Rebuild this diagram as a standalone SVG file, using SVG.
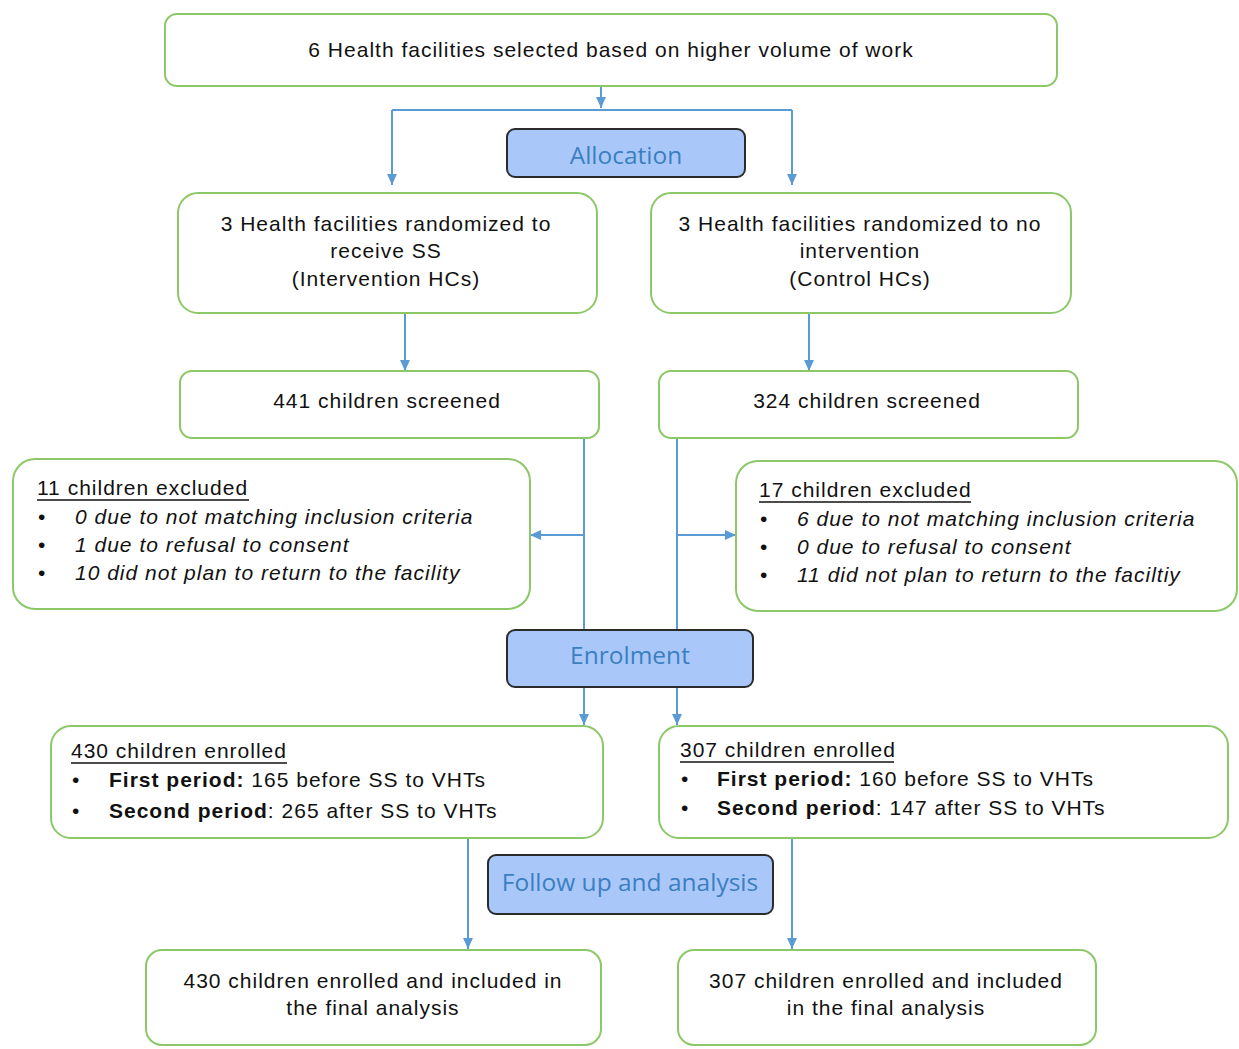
<svg xmlns="http://www.w3.org/2000/svg" width="1239" height="1049" viewBox="0 0 1239 1049">
  <defs>
    <marker id="arr" viewBox="0 0 10 10" refX="10" refY="5" markerWidth="11" markerHeight="11" orient="auto" markerUnits="userSpaceOnUse">
      <path d="M0,0.5 L10,5 L0,9.5 z" fill="#5b9bd5"/>
    </marker>
    <style>
      .box { fill: #ffffff; stroke: #8cc868; stroke-width: 2; }
      .stage { fill: #a9c8f9; stroke: #2b2b2b; stroke-width: 2; }
      .stage-t { font-family: "Open Sans", "Noto Sans", sans-serif; font-size: 24.5px; fill: #3b7fc2; text-anchor: middle; }
      .t { font-family: "Liberation Sans", Arial, sans-serif; font-size: 21px; letter-spacing: 1px; fill: #111; }
      .c { text-anchor: middle; }
      .i { font-style: italic; }
      .b { font-weight: bold; }
      .conn { fill: none; stroke: #5b9bd5; stroke-width: 2; }
      .ul { stroke: #111; stroke-width: 1.5; }
    </style>
  </defs>

  <!-- connectors -->
  <g id="connectors">
    <line class="conn" x1="601" y1="86" x2="601" y2="108" marker-end="url(#arr)"/>
    <polyline class="conn" points="392,110 792,110"/>
    <line class="conn" x1="392" y1="110" x2="392" y2="185" marker-end="url(#arr)"/>
    <line class="conn" x1="792" y1="110" x2="792" y2="185" marker-end="url(#arr)"/>
    <line class="conn" x1="405" y1="313" x2="405" y2="371" marker-end="url(#arr)"/>
    <line class="conn" x1="809" y1="313" x2="809" y2="371" marker-end="url(#arr)"/>
    <line class="conn" x1="584" y1="438" x2="584" y2="725" marker-end="url(#arr)"/>
    <line class="conn" x1="677" y1="438" x2="677" y2="725" marker-end="url(#arr)"/>
    <line class="conn" x1="584" y1="535" x2="530" y2="535" marker-end="url(#arr)"/>
    <line class="conn" x1="677" y1="535" x2="736" y2="535" marker-end="url(#arr)"/>
    <line class="conn" x1="468" y1="838" x2="468" y2="949" marker-end="url(#arr)"/>
    <line class="conn" x1="792" y1="838" x2="792" y2="949" marker-end="url(#arr)"/>
  </g>

  <!-- top -->
  <g id="selected">
    <rect class="box" x="165" y="14" width="892" height="72" rx="12"/>
    <text class="t c" x="611" y="57">6 Health facilities selected based on higher volume of work</text>
  </g>

  <g id="allocation">
    <rect class="stage" x="507" y="129" width="238" height="48" rx="8"/>
    <text class="stage-t" x="626" y="164">Allocation</text>
  </g>

  <g id="intervention-hcs">
    <rect class="box" x="178" y="193" width="419" height="120" rx="20"/>
    <text class="t c" x="386" y="231">3 Health facilities randomized to</text>
    <text class="t c" x="386" y="258">receive SS</text>
    <text class="t c" x="386" y="286">(Intervention HCs)</text>
  </g>

  <g id="control-hcs">
    <rect class="box" x="651" y="193" width="420" height="120" rx="20"/>
    <text class="t c" x="860" y="231">3 Health facilities randomized to no</text>
    <text class="t c" x="860" y="258">intervention</text>
    <text class="t c" x="860" y="286">(Control HCs)</text>
  </g>

  <g id="screened-left">
    <rect class="box" x="180" y="371" width="419" height="67" rx="12"/>
    <text class="t c" x="387" y="408">441 children screened</text>
  </g>

  <g id="screened-right">
    <rect class="box" x="659" y="371" width="419" height="67" rx="12"/>
    <text class="t c" x="867" y="408">324 children screened</text>
  </g>

  <g id="excluded-left">
    <rect class="box" x="13" y="459" width="517" height="150" rx="22"/>
    <text class="t" x="37" y="495">11 children excluded</text>
    <line class="ul" x1="37" y1="500" x2="249" y2="500"/>
    <text class="t" x="38" y="524">•</text>
    <text class="t i" x="75" y="524">0 due to not matching inclusion criteria</text>
    <text class="t" x="38" y="552">•</text>
    <text class="t i" x="75" y="552">1 due to refusal to consent</text>
    <text class="t" x="38" y="580">•</text>
    <text class="t i" x="75" y="580">10 did not plan to return to the facility</text>
  </g>

  <g id="excluded-right">
    <rect class="box" x="736" y="461" width="501" height="150" rx="22"/>
    <text class="t" x="759" y="497">17 children excluded</text>
    <line class="ul" x1="759" y1="502" x2="971" y2="502"/>
    <text class="t" x="760" y="526">•</text>
    <text class="t i" x="797" y="526">6 due to not matching inclusion criteria</text>
    <text class="t" x="760" y="554">•</text>
    <text class="t i" x="797" y="554">0 due to refusal to consent</text>
    <text class="t" x="760" y="582">•</text>
    <text class="t i" x="797" y="582">11 did not plan to return to the faciltiy</text>
  </g>

  <g id="enrolment">
    <rect class="stage" x="507" y="630" width="246" height="57" rx="8"/>
    <text class="stage-t" x="630" y="664">Enrolment</text>
  </g>

  <g id="enrolled-left">
    <rect class="box" x="51" y="726" width="552" height="112" rx="20"/>
    <text class="t" x="71" y="758">430 children enrolled</text>
    <line class="ul" x1="71" y1="763" x2="287" y2="763"/>
    <text class="t" x="72" y="787">•</text>
    <text class="t" x="109" y="787"><tspan class="b">First period:</tspan> 165 before SS to VHTs</text>
    <text class="t" x="72" y="818">•</text>
    <text class="t" x="109" y="818"><tspan class="b">Second period</tspan>: 265 after SS to VHTs</text>
  </g>

  <g id="enrolled-right">
    <rect class="box" x="659" y="726" width="569" height="112" rx="20"/>
    <text class="t" x="680" y="757">307 children enrolled</text>
    <line class="ul" x1="680" y1="762" x2="894" y2="762"/>
    <text class="t" x="681" y="786">•</text>
    <text class="t" x="717" y="786"><tspan class="b">First period:</tspan> 160 before SS to VHTs</text>
    <text class="t" x="681" y="815">•</text>
    <text class="t" x="717" y="815"><tspan class="b">Second period</tspan>: 147 after SS to VHTs</text>
  </g>

  <g id="follow-up">
    <rect class="stage" x="488" y="855" width="285" height="59" rx="8"/>
    <text class="stage-t" x="630" y="891">Follow up and analysis</text>
  </g>

  <g id="final-left">
    <rect class="box" x="146" y="950" width="455" height="95" rx="16"/>
    <text class="t c" x="373" y="988">430 children enrolled and included in</text>
    <text class="t c" x="373" y="1015">the final analysis</text>
  </g>

  <g id="final-right">
    <rect class="box" x="678" y="950" width="418" height="95" rx="16"/>
    <text class="t c" x="886" y="988">307 children enrolled and included</text>
    <text class="t c" x="886" y="1015">in the final analysis</text>
  </g>
</svg>
